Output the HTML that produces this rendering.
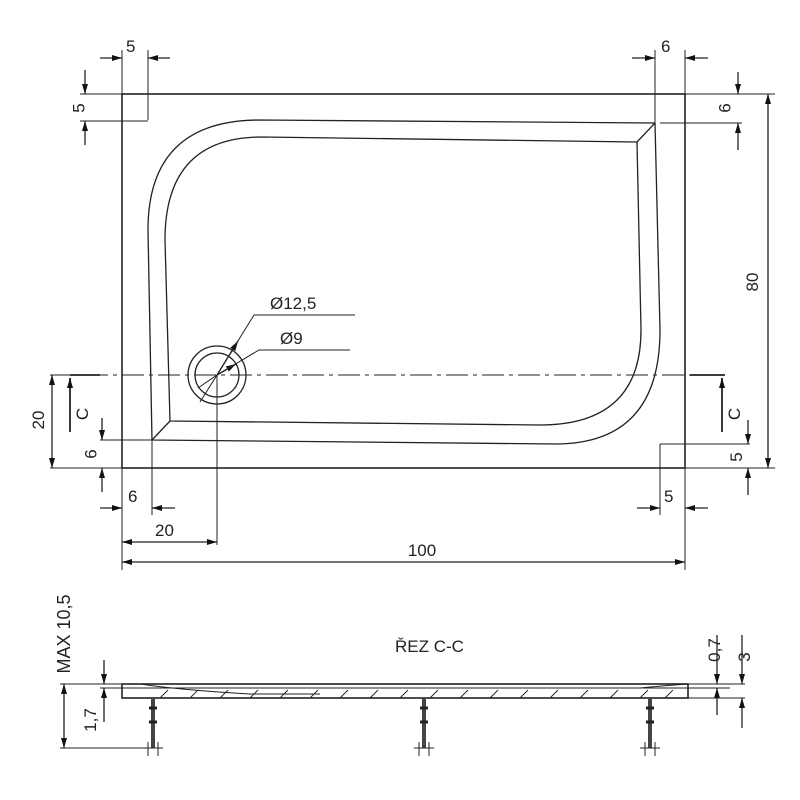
<!DOCTYPE html><html><head><style>body{margin:0;background:#fff}svg{display:block}text{font-family:"Liberation Sans",sans-serif;font-size:17px;fill:#222}</style></head><body>
<svg width="800" height="800" viewBox="0 0 800 800" xmlns="http://www.w3.org/2000/svg">
<defs><marker id="a" viewBox="0 0 10 6" refX="10" refY="3" markerWidth="10" markerHeight="6" orient="auto-start-reverse" markerUnits="userSpaceOnUse"><path d="M0,0L10,3L0,6z" fill="#111"/></marker></defs>
<g stroke="#222" stroke-width="1.3" fill="none">
<rect x="122" y="94" width="563" height="374" stroke-width="1.6"/>
<path d="M260,120 L655,123 L660,330 Q660,444 555,444 L152,440 L148,230 Q148,120 260,120"/>
<path d="M262,137 L637,142 L641,330 Q641,425 540,425 L170,421 L165,240 Q165,137 262,137"/>
<path d="M655,123 L637,142 M152,440 L170,421"/>
<circle cx="217" cy="375" r="29"/><circle cx="217" cy="375" r="22"/>
<path d="M50,375 H720" stroke-dasharray="22,5,4,5" stroke-width="1"/>
<path d="M122,50V94 M148,50V120 M80,94H122 M80,121H148 M655,50V123 M685,50V94 M685,94H775 M660,123H742 M685,468H775 M660,444H750 M685,468V515 M660,444V515 M122,468V570 M152,440V515 M100,440H152 M50,468H122 M217,375V545 M685,468V570" stroke-width="1"/>
<g marker-end="url(#a)">
<line x1="100" y1="58" x2="122" y2="58"/><line x1="170" y1="58" x2="148" y2="58"/>
<line x1="85" y1="70" x2="85" y2="94"/><line x1="85" y1="145" x2="85" y2="121"/>
<line x1="632" y1="58" x2="655" y2="58"/><line x1="708" y1="58" x2="685" y2="58"/>
<line x1="738" y1="72" x2="738" y2="94"/><line x1="738" y1="150" x2="738" y2="123"/>
<line x1="748" y1="420" x2="748" y2="444"/><line x1="748" y1="495" x2="748" y2="468"/>
<line x1="637" y1="508" x2="660" y2="508"/><line x1="708" y1="508" x2="685" y2="508"/>
<line x1="100" y1="508" x2="122" y2="508"/><line x1="175" y1="508" x2="152" y2="508"/>
<line x1="102" y1="418" x2="102" y2="440"/><line x1="102" y1="492" x2="102" y2="468"/>
<line x1="104" y1="660" x2="104" y2="684"/><line x1="104" y1="722" x2="104" y2="688"/>
<line x1="717" y1="635" x2="717" y2="684"/><line x1="717" y1="715" x2="717" y2="688"/>
<line x1="742" y1="635" x2="742" y2="684"/><line x1="742" y1="728" x2="742" y2="698"/>
<line x1="217" y1="375" x2="238" y2="341"/><line x1="217" y1="375" x2="236" y2="364"/>
</g>
<path d="M768,94V468" marker-start="url(#a)" marker-end="url(#a)"/>
<path d="M52,375V468" marker-start="url(#a)" marker-end="url(#a)"/>
<path d="M122,542H217" marker-start="url(#a)" marker-end="url(#a)"/>
<path d="M122,562H685" marker-start="url(#a)" marker-end="url(#a)"/>
<path d="M64,684V748" marker-start="url(#a)" marker-end="url(#a)"/>
<path d="M217,375L254,315H355 M217,375L259,350H350 M217,375L200,402 M217,375L198,388" stroke-width="1"/>
<g stroke-width="1.8"><path d="M70,375H100 M690,375H725"/><line x1="70" y1="432" x2="70" y2="378" marker-end="url(#a)"/><line x1="722" y1="432" x2="722" y2="378" marker-end="url(#a)"/></g>
<rect x="122" y="684" width="566" height="14" stroke-width="1.6"/>
<path d="M122,688 H688 M140,684 Q180,690 250,694 H320 M640,688 Q660,686 688,684" stroke-width="1"/>
<path d="M160,698l8,-8 M190,698l8,-8 M220,698l8,-8 M250,698l8,-8 M280,698l8,-8 M310,698l8,-8 M340,698l8,-8 M370,698l8,-8 M400,698l8,-8 M430,698l8,-8 M460,698l8,-8 M490,698l8,-8 M520,698l8,-8 M550,698l8,-8 M580,698l8,-8 M610,698l8,-8 M640,698l8,-8 M665,698l8,-8" stroke-width="0.9"/>
<path d="M153,698V748 M424,698V748 M650,698V748" stroke-width="4" stroke="#444"/>
<path d="M149,708h8 M149,722h8 M420,708h8 M420,722h8 M646,708h8 M646,722h8" stroke-width="3"/>
<path d="M143,748H163 M414,748H434 M640,748H660 M148,742V756 M158,742V756 M419,742V756 M429,742V756 M645,742V756 M655,742V756" stroke-width="1"/>
<path d="M60,684H122 M60,748H143 M100,688H122 M688,684H745 M688,688H730 M688,698H745" stroke-width="1"/>
</g>
<text x="126" y="52">5</text><text x="80" y="108" transform="rotate(-90 80 108)" text-anchor="middle" dominant-baseline="middle">5</text>
<text x="661" y="52">6</text><text x="726" y="108" transform="rotate(-90 726 108)" text-anchor="middle" dominant-baseline="middle">6</text>
<text x="758" y="282" transform="rotate(-90 758 282)" text-anchor="middle">80</text>
<text x="742" y="457" transform="rotate(-90 742 457)" text-anchor="middle">5</text>
<text x="664" y="502">5</text><text x="128" y="502">6</text>
<text x="92" y="454" transform="rotate(-90 92 454)" text-anchor="middle" dominant-baseline="middle">6</text>
<text x="44" y="420" transform="rotate(-90 44 420)" text-anchor="middle">20</text>
<text x="155" y="536">20</text><text x="422" y="556" text-anchor="middle">100</text>
<text x="270" y="309">Ø12,5</text><text x="280" y="344">Ø9</text>
<text x="88" y="414" transform="rotate(-90 88 414)" text-anchor="middle">C</text>
<text x="740" y="414" transform="rotate(-90 740 414)" text-anchor="middle">C</text>
<text x="395" y="652">ŘEZ C-C</text>
<text x="70" y="634" transform="rotate(-90 70 634)" text-anchor="middle" style="font-size:18px">MAX 10,5</text>
<text x="96" y="720" transform="rotate(-90 96 720)" text-anchor="middle">1,7</text>
<text x="720" y="650" transform="rotate(-90 720 650)" text-anchor="middle">0,7</text>
<text x="750" y="657" transform="rotate(-90 750 657)" text-anchor="middle">3</text>
</svg></body></html>
